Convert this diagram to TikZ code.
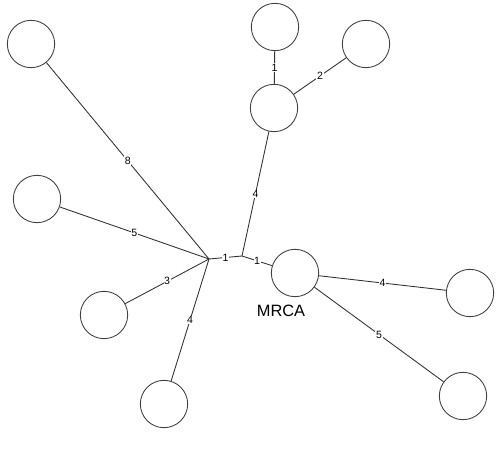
\documentclass[tikz,border=0pt]{standalone}
\usepackage{fontspec}
\setmainfont{Liberation Sans}

\begin{document}
\begin{tikzpicture}[x=0.03cm, y=-0.03cm, line width=0.75pt, draw=black!80,
  leaf/.style={draw=black!75, circle, minimum size=1.42cm, inner sep=0pt},
  len/.style={midway, fill=white, inner sep=0.5pt, font=\fontsize{9}{10}\selectfont}]
\useasboundingbox (0,0) rectangle (502,452);
\node[leaf] (tl) at (31,44) {};
\node[leaf] (l1) at (37,199) {};
\node[leaf] (l2) at (104,315) {};
\node[leaf] (b1) at (164,404) {};
\node[leaf] (m1) at (274,108) {};
\node[leaf] (t1) at (275,27) {};
\node[leaf] (t2) at (366,44) {};
\node[leaf] (mrca) at (295,273) {};
\node[leaf] (r1) at (470,293) {};
\node[leaf] (r2) at (463,396) {};
\coordinate (h1) at (209,259);
\coordinate (h2) at (242,256);
\node (mrcalab) at (281,311) {\fontsize{14}{16}\selectfont MRCA};
\draw (tl)--(h1) node[len] {8};
\draw (l1)--(h1) node[len] {5};
\draw (l2)--(h1) node[len] {3};
\draw (b1)--(h1) node[len] {4};
\draw (h1)--(h2) node[len] {1};
\draw (h2)--(mrca) node[len] {1};
\draw (h2)--(m1) node[len] {4};
\draw (m1)--(t1) node[len] {1};
\draw (m1)--(t2) node[len] {2};
% from MRCA:
\draw (mrca)--(r1) node[len] {4};
\draw (mrca)--(r2) node[len] {5};
\end{tikzpicture}
\end{document}
